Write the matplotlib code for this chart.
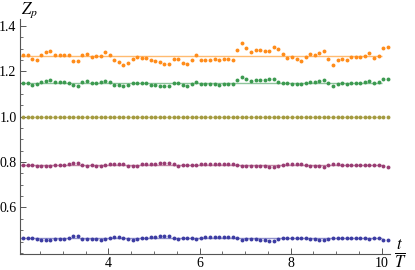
import matplotlib
matplotlib.use("Agg")
import matplotlib.pyplot as plt
from matplotlib.ticker import MultipleLocator

plt.rcParams['font.family'] = ['Liberation Serif', 'DejaVu Serif']
plt.rcParams['mathtext.fontset'] = 'stix'

# sampling times t/T
t = [2.13, 2.23, 2.33, 2.43, 2.53, 2.63, 2.73, 2.83, 2.93, 3.03,
     3.13, 3.23, 3.33, 3.43, 3.53, 3.63, 3.73, 3.83, 3.93, 4.03,
     4.13, 4.23, 4.33, 4.43, 4.53, 4.63, 4.73, 4.83, 4.93, 5.03,
     5.13, 5.23, 5.33, 5.43, 5.53, 5.63, 5.73, 5.83, 5.93, 6.03,
     6.13, 6.23, 6.33, 6.43, 6.53, 6.63, 6.73, 6.83, 6.93, 7.03,
     7.13, 7.23, 7.33, 7.43, 7.53, 7.63, 7.73, 7.83, 7.93, 8.03,
     8.13, 8.23, 8.33, 8.43, 8.53, 8.63, 8.73, 8.83, 8.93, 9.03,
     9.13, 9.23, 9.33, 9.43, 9.53, 9.63, 9.73, 9.83, 9.93, 10.03,
     10.13]

z_orange = [1.270, 1.270, 1.254, 1.250, 1.270, 1.284, 1.287, 1.271, 1.271, 1.271,
            1.271, 1.246, 1.243, 1.271, 1.278, 1.262, 1.265, 1.265, 1.284, 1.270,
            1.249, 1.240, 1.229, 1.237, 1.256, 1.261, 1.259, 1.258, 1.248, 1.245,
            1.240, 1.231, 1.233, 1.256, 1.255, 1.236, 1.230, 1.249, 1.271, 1.249,
            1.249, 1.251, 1.252, 1.248, 1.255, 1.256, 1.249, 1.293, 1.325, 1.302,
            1.286, 1.292, 1.295, 1.290, 1.289, 1.306, 1.299, 1.274, 1.258, 1.262,
            1.255, 1.246, 1.262, 1.274, 1.272, 1.280, 1.287, 1.254, 1.229, 1.250,
            1.256, 1.249, 1.261, 1.261, 1.261, 1.268, 1.280, 1.258, 1.266, 1.303,
            1.308]

z_green = [1.148, 1.148, 1.141, 1.144, 1.152, 1.158, 1.160, 1.151, 1.151, 1.151,
           1.148, 1.138, 1.135, 1.151, 1.155, 1.148, 1.148, 1.151, 1.155, 1.152,
           1.141, 1.138, 1.133, 1.138, 1.148, 1.149, 1.148, 1.146, 1.141, 1.141,
           1.136, 1.133, 1.135, 1.146, 1.148, 1.138, 1.135, 1.142, 1.151, 1.142,
           1.142, 1.143, 1.142, 1.141, 1.144, 1.144, 1.142, 1.160, 1.173, 1.164,
           1.155, 1.160, 1.161, 1.161, 1.167, 1.164, 1.154, 1.146, 1.148, 1.145,
           1.142, 1.142, 1.146, 1.154, 1.154, 1.155, 1.160, 1.146, 1.136, 1.144,
           1.146, 1.144, 1.148, 1.146, 1.148, 1.151, 1.155, 1.146, 1.151, 1.167,
           1.165]

z_olive = [1.0, 1.0, 1.0, 1.0, 1.0, 1.0, 1.0, 1.0, 1.0, 1.0,
           1.0, 1.0, 1.0, 1.0, 1.0, 1.0, 1.0, 1.0, 1.0, 1.0,
           1.0, 1.0, 1.0, 1.0, 1.0, 1.0, 1.0, 1.0, 1.0, 1.0,
           1.0, 1.0, 1.0, 1.0, 1.0, 1.0, 1.0, 1.0, 1.0, 1.0,
           1.0, 1.0, 1.0, 1.0, 1.0, 1.0, 1.0, 1.0, 1.0, 1.0,
           1.0, 1.0, 1.0, 1.0, 1.0, 1.0, 1.0, 1.0, 1.0, 1.0,
           1.0, 1.0, 1.0, 1.0, 1.0, 1.0, 1.0, 1.0, 1.0, 1.0,
           1.0, 1.0, 1.0, 1.0, 1.0, 1.0, 1.0, 1.0, 1.0, 1.0,
           1.0]

z_purple = [0.787, 0.788, 0.787, 0.784, 0.781, 0.781, 0.781, 0.786, 0.786, 0.786,
            0.790, 0.797, 0.797, 0.786, 0.784, 0.786, 0.783, 0.781, 0.786, 0.790,
            0.791, 0.793, 0.790, 0.783, 0.781, 0.784, 0.790, 0.790, 0.791, 0.791,
            0.797, 0.797, 0.797, 0.790, 0.784, 0.787, 0.788, 0.787, 0.786, 0.790,
            0.791, 0.791, 0.791, 0.791, 0.793, 0.793, 0.793, 0.787, 0.781, 0.783,
            0.783, 0.783, 0.781, 0.781, 0.777, 0.777, 0.783, 0.787, 0.790, 0.790,
            0.790, 0.790, 0.787, 0.783, 0.783, 0.781, 0.778, 0.786, 0.790, 0.790,
            0.788, 0.788, 0.788, 0.787, 0.787, 0.787, 0.786, 0.787, 0.787, 0.781,
            0.780]

z_blue = [0.464, 0.465, 0.464, 0.461, 0.458, 0.458, 0.458, 0.463, 0.463, 0.463,
          0.467, 0.474, 0.474, 0.463, 0.461, 0.463, 0.460, 0.458, 0.463, 0.467,
          0.468, 0.470, 0.467, 0.460, 0.458, 0.461, 0.467, 0.467, 0.468, 0.468,
          0.474, 0.474, 0.474, 0.467, 0.461, 0.464, 0.465, 0.464, 0.463, 0.467,
          0.468, 0.468, 0.468, 0.468, 0.470, 0.470, 0.470, 0.464, 0.458, 0.460,
          0.460, 0.460, 0.458, 0.458, 0.454, 0.454, 0.460, 0.464, 0.467, 0.467,
          0.467, 0.467, 0.464, 0.460, 0.460, 0.458, 0.455, 0.463, 0.467, 0.467,
          0.465, 0.465, 0.465, 0.464, 0.464, 0.464, 0.463, 0.464, 0.464, 0.458,
          0.457]

# mean levels (drawn as thin lines)
levels = [1.267, 1.148, 1.0, 0.787, 0.464]

series = [z_orange, z_green, z_olive, z_purple, z_blue]
point_colors = ['#ff8c1a', '#3c9a50', '#a39a40', '#993d73', '#3d3da3']
line_colors = ['#ffbb70', '#8cc49a', '#d8d090', '#c68aa8', '#9090cc']

fig = plt.figure(figsize=(4.15, 2.70), dpi=100)
ax = fig.add_axes([20/415, 16/270, 370/415, 235/270])

for lev, lc in zip(levels, line_colors):
    ax.hlines(lev, 2.0, 10.0, colors=lc, lw=1.0, zorder=1)

for z, pc in zip(series, point_colors):
    ax.plot(t, z, 'o', color=pc, ms=2.8, mew=0, zorder=3)

ax.set_xlim(2.061, 10.18)
ax.set_ylim(0.395, 1.43)

for s in ['top', 'right']:
    ax.spines[s].set_visible(False)
for s in ['left', 'bottom']:
    ax.spines[s].set_color('#555555')
    ax.spines[s].set_linewidth(0.8)

ax.xaxis.set_major_locator(MultipleLocator(2))
ax.xaxis.set_minor_locator(MultipleLocator(0.5))
ax.yaxis.set_major_locator(MultipleLocator(0.2))
ax.yaxis.set_minor_locator(MultipleLocator(0.05))
ax.tick_params(which='both', direction='in', color='#555555', labelsize=10)
ax.tick_params(which='major', length=4, width=0.7, pad=2.5)
ax.tick_params(which='minor', length=2.3, width=0.6)
ax.set_xticks([4, 6, 8, 10])
ax.set_xticklabels(['4', '6', '8', '10'])
ax.set_yticks([0.6, 0.8, 1.0, 1.2, 1.4])
ax.set_yticklabels(['0.6', '0.8', '1.0', '1.2', '1.4'])

fig.text(21/415, 1 - 10/270, r'$Z_p$', fontsize=12, ha='left', va='center')
fig.text(400/415, 1 - 254/270, r'$\frac{t}{T}$', fontsize=17, ha='center', va='center')

fig.savefig('out.png', dpi=100)
